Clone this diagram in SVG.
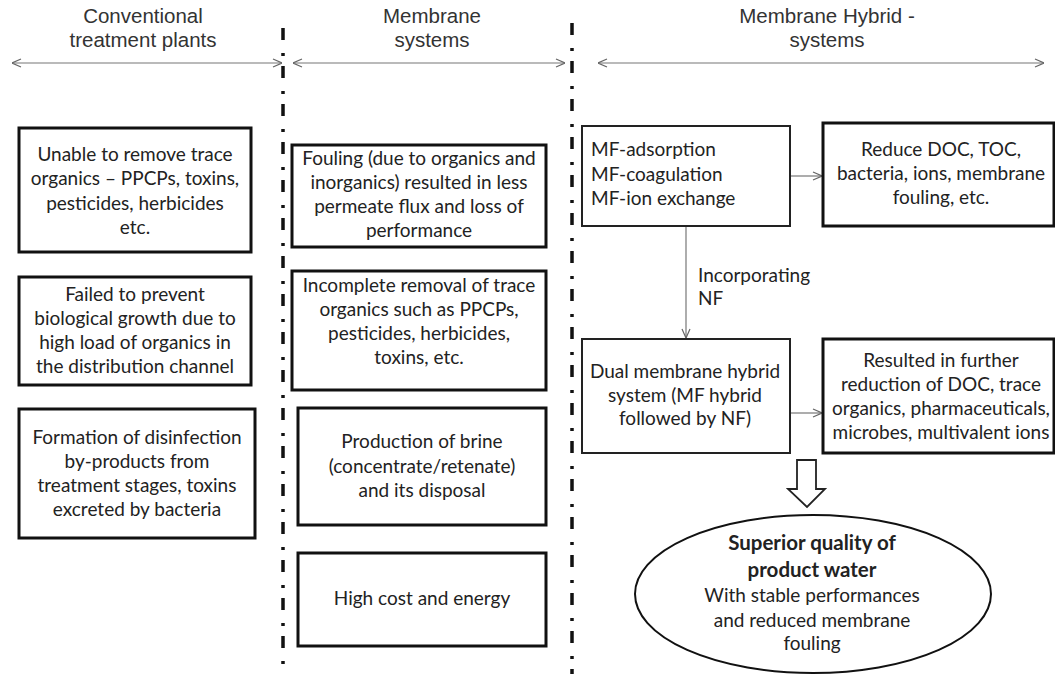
<svg xmlns="http://www.w3.org/2000/svg" width="1055" height="674" viewBox="0 0 1055 674">
<defs>
<marker id="open" viewBox="0 0 10 10" refX="10" refY="5" markerWidth="10" markerHeight="10" markerUnits="userSpaceOnUse" orient="auto-start-reverse">
<path d="M1,1 L10,5 L1,9" fill="none" stroke="#666" stroke-width="1.2"/>
</marker>
</defs>
<style>
.hd{font-family:"Liberation Sans",Arial,sans-serif;font-size:20.5px;fill:#333;text-anchor:middle}
.bx{fill:#fff;stroke:#111;stroke-width:3}
.bt{fill:#fff;stroke:#222;stroke-width:2}
.t{font-family:Lato,"Open Sans",sans-serif;font-size:19px;fill:#222;text-anchor:middle}
.tl{font-family:Lato,"Open Sans",sans-serif;font-size:19px;fill:#222;text-anchor:start}
.b{font-weight:bold;font-size:20.5px}
.sep{stroke:#111;stroke-width:3.5;stroke-dasharray:12 13 3 10;fill:none}
.ar{stroke:#777;stroke-width:1.2;fill:none}
</style>
<rect width="1055" height="674" fill="#fff"/>

<g id="headers">
<text class="hd" x="143" y="23">Conventional</text>
<text class="hd" x="143" y="47">treatment plants</text>
<text class="hd" x="432" y="23">Membrane</text>
<text class="hd" x="432" y="47">systems</text>
<text class="hd" x="827" y="23">Membrane Hybrid -</text>
<text class="hd" x="827" y="47">systems</text>
</g>

<g id="separators">
<line class="sep" x1="283" y1="28" x2="283" y2="674"/>
<line class="sep" x1="572" y1="23" x2="572" y2="674"/>
</g>

<g id="connectors">
<line class="ar" x1="12" y1="63" x2="282" y2="63" marker-start="url(#open)" marker-end="url(#open)"/>
<line class="ar" x1="293" y1="63" x2="565" y2="63" marker-start="url(#open)" marker-end="url(#open)"/>
<line class="ar" x1="598" y1="63" x2="1044" y2="63" marker-start="url(#open)" marker-end="url(#open)"/>
<line class="ar" x1="790" y1="176" x2="822" y2="176" marker-end="url(#open)"/>
<line class="ar" x1="686" y1="226" x2="686" y2="338" marker-end="url(#open)"/>
<line class="ar" x1="790" y1="413" x2="822" y2="413" marker-end="url(#open)"/>
<text class="tl" x="698" y="282">Incorporating</text>
<text class="tl" x="698" y="305">NF</text>
<polygon points="797,460 816,460 816,489 825,489 807,507 788,489 797,489" fill="#fff" stroke="#222" stroke-width="1.8"/>
</g>

<g id="c1">
<rect class="bx" x="19" y="128" width="232" height="124"/>
<text class="t" x="135" y="161">Unable to remove trace</text>
<text class="t" x="135" y="185">organics – PPCPs, toxins,</text>
<text class="t" x="135" y="210">pesticides, herbicides</text>
<text class="t" x="135" y="234">etc.</text>
</g>
<g id="c2">
<rect class="bx" x="19" y="277" width="232" height="108"/>
<text class="t" x="135" y="301">Failed to prevent</text>
<text class="t" x="135" y="325">biological growth due to</text>
<text class="t" x="135" y="349">high load of organics in</text>
<text class="t" x="135" y="373">the distribution channel</text>
</g>
<g id="c3">
<rect class="bx" x="19" y="409" width="236" height="129"/>
<text class="t" x="137" y="444">Formation of disinfection</text>
<text class="t" x="137" y="468">by-products from</text>
<text class="t" x="137" y="492">treatment stages, toxins</text>
<text class="t" x="137" y="516">excreted by bacteria</text>
</g>

<g id="m1">
<rect class="bx" x="292" y="145" width="254" height="102"/>
<text class="t" x="419" y="165">Fouling (due to organics and</text>
<text class="t" x="419" y="189">inorganics) resulted in less</text>
<text class="t" x="419" y="213">permeate flux and loss of</text>
<text class="t" x="419" y="237">performance</text>
</g>
<g id="m2">
<rect class="bx" x="292" y="271" width="254" height="119"/>
<text class="t" x="419" y="292">Incomplete removal of trace</text>
<text class="t" x="419" y="316">organics such as PPCPs,</text>
<text class="t" x="419" y="340">pesticides, herbicides,</text>
<text class="t" x="419" y="364">toxins, etc.</text>
</g>
<g id="m3">
<rect class="bx" x="298" y="408" width="248" height="117"/>
<text class="t" x="422" y="448">Production of brine</text>
<text class="t" x="422" y="473">(concentrate/retenate)</text>
<text class="t" x="422" y="497">and its disposal</text>
</g>
<g id="m4">
<rect class="bx" x="298" y="553" width="248" height="93"/>
<text class="t" x="422" y="605">High cost and energy</text>
</g>

<g id="h1">
<rect class="bt" x="582" y="126" width="208" height="100"/>
<text class="tl" x="591" y="156">MF-adsorption</text>
<text class="tl" x="591" y="181">MF-coagulation</text>
<text class="tl" x="591" y="205">MF-ion exchange</text>
</g>
<g id="h2">
<rect class="bx" x="823" y="123" width="231" height="103"/>
<text class="t" x="941" y="156">Reduce DOC, TOC,</text>
<text class="t" x="941" y="180">bacteria, ions, membrane</text>
<text class="t" x="941" y="204">fouling, etc.</text>
</g>
<g id="h3">
<rect class="bt" x="582" y="339" width="208" height="114"/>
<text class="t" x="685" y="378">Dual membrane hybrid</text>
<text class="t" x="685" y="402">system (MF hybrid</text>
<text class="t" x="685" y="425">followed by NF)</text>
</g>
<g id="h4">
<rect class="bx" x="823" y="339" width="231" height="114"/>
<text class="t" x="941" y="367">Resulted in further</text>
<text class="t" x="941" y="391">reduction of DOC, trace</text>
<text class="t" x="941" y="415">organics, pharmaceuticals,</text>
<text class="t" x="941" y="439">microbes, multivalent ions</text>
</g>
<g id="result">
<ellipse cx="813" cy="594" rx="178" ry="79" fill="#fff" stroke="#111" stroke-width="2"/>
<text class="t b" x="812" y="550">Superior quality of</text>
<text class="t b" x="812" y="577">product water</text>
<text class="t" x="812" y="602">With stable performances</text>
<text class="t" x="812" y="627">and reduced membrane</text>
<text class="t" x="812" y="650">fouling</text>
</g>
</svg>
